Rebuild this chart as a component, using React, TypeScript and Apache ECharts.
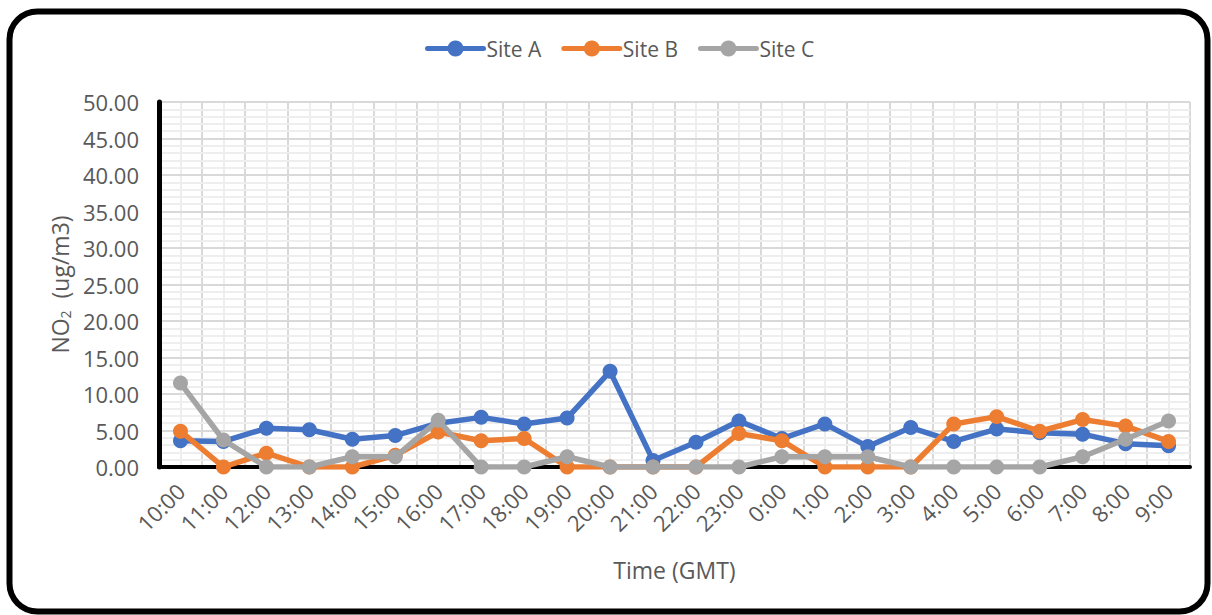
import React, { useEffect, useRef } from "react";
import * as echarts from "echarts";

// Hourly NO2 readings at three sites
const categories = [
  "10:00", "11:00", "12:00", "13:00", "14:00", "15:00", "16:00", "17:00",
  "18:00", "19:00", "20:00", "21:00", "22:00", "23:00", "0:00", "1:00",
  "2:00", "3:00", "4:00", "5:00", "6:00", "7:00", "8:00", "9:00",
];
const siteA = [3.6, 3.5, 5.3, 5.1, 3.8, 4.3, 6.0, 6.8, 5.9, 6.7, 13.1, 0.9, 3.4, 6.3, 3.9, 5.9, 2.8, 5.4, 3.5, 5.2, 4.7, 4.5, 3.2, 2.9];
const siteB = [4.9, 0, 1.9, 0, 0, 1.6, 4.8, 3.6, 3.9, 0, 0, 0, 0, 4.6, 3.6, 0, 0, 0, 5.9, 6.9, 4.9, 6.5, 5.6, 3.5];
const siteC = [11.5, 3.7, 0, 0, 1.4, 1.4, 6.4, 0, 0, 1.4, 0, 0, 0, 0, 1.4, 1.4, 1.4, 0, 0, 0, 0, 1.4, 3.8, 6.3];
const seriesNames = ["Site A", "Site B", "Site C"];
const seriesColors = ["#4472C4", "#ED7D31", "#A5A5A5"];

const FONT = "'Open Sans', sans-serif";
const TEXT = "#595959";

export default function App() {
  const ref = useRef<HTMLDivElement>(null);

  useEffect(() => {
    if (!ref.current) return;
    const chart = echarts.init(ref.current, undefined, { renderer: "svg" });
    const values = [siteA, siteB, siteC];

    chart.setOption({
      animation: false,
      backgroundColor: "#ffffff",
      textStyle: { fontFamily: FONT },
      graphic: [
        {
          type: "rect",
          shape: { x: 9.5, y: 11.5, width: 1198, height: 600, r: 28 },
          style: { fill: "none", stroke: "#000000", lineWidth: 6 },
          z: 10,
        },
      ],
      legend: {
        left: 420,
        top: 33,
        itemWidth: 56,
        itemHeight: 20,
        itemGap: 20,
        lineStyle: { width: 5 },
        textStyle: { fontFamily: FONT, fontSize: 21, color: TEXT, padding: [0, 0, 0, -2] },
        data: seriesNames,
      },
      grid: { left: 159, right: 22, top: 102, bottom: 148, containLabel: false },
      xAxis: [
        {
          type: "category",
          data: categories,
          boundaryGap: true,
          z: 1,
          name: "Time (GMT)",
          nameLocation: "middle",
          nameGap: 91,
          nameTextStyle: { fontFamily: FONT, fontSize: 23, color: TEXT },
          axisLine: { lineStyle: { color: "#000000", width: 4 } },
          axisTick: { show: false },
          splitLine: { show: false },
          axisLabel: {
            rotate: 45,
            margin: 20,
            fontFamily: FONT,
            fontSize: 22,
            color: TEXT,
            interval: 0,
          },
        },
        {
          // hidden value scale used only for the vertical grid lines
          type: "value",
          min: 0,
          max: 24,
          interval: 1,
          z: 0,
          axisLine: { show: false },
          axisTick: { show: false },
          axisLabel: { show: false },
          splitLine: { show: true, showMinLine: false, lineStyle: { color: "#D9D9D9", width: 2 } },
          minorTick: { show: false, splitNumber: 2 },
          minorSplitLine: { show: true, lineStyle: { color: "#EEEEEE", width: 2 } },
        },
      ],
      yAxis: {
        type: "value",
        min: 0,
        max: 50,
        interval: 5,
        z: 1,
        name: "NO{sub|2}  (ug/m3)",
        nameLocation: "middle",
        nameRotate: 90,
        nameGap: 85,
        nameTextStyle: {
          fontFamily: FONT,
          fontSize: 23,
          color: TEXT,
          rich: {
            sub: { fontFamily: FONT, fontSize: 14, color: TEXT, padding: [11, 0, 0, 0] },
          },
        },
        axisLine: { show: true, lineStyle: { color: "#000000", width: 5 } },
        axisTick: { show: false },
        axisLabel: {
          margin: 20,
          fontFamily: FONT,
          fontSize: 22,
          color: TEXT,
          formatter: (v: number) => v.toFixed(2),
        },
        splitLine: { show: true, showMinLine: false, lineStyle: { color: "#D9D9D9", width: 2 } },
        minorTick: { show: false, splitNumber: 5 },
        minorSplitLine: { show: true, lineStyle: { color: "#EEEEEE", width: 2 } },
      },
      series: seriesNames.map((name, i) => ({
        name,
        type: "line",
        xAxisIndex: 0,
        data: values[i],
        symbol: "circle",
        symbolSize: 15,
        showAllSymbol: true,
        color: seriesColors[i],
        lineStyle: { width: 5.5, color: seriesColors[i], join: "round", cap: "round" },
        itemStyle: { color: seriesColors[i] },
        z: 3 + i,
      })),
    });

    return () => chart.dispose();
  }, []);

  return (
    <div
      ref={ref}
      style={{ position: "fixed", left: 0, top: 0, width: 1212, height: 615 }}
    />
  );
}
